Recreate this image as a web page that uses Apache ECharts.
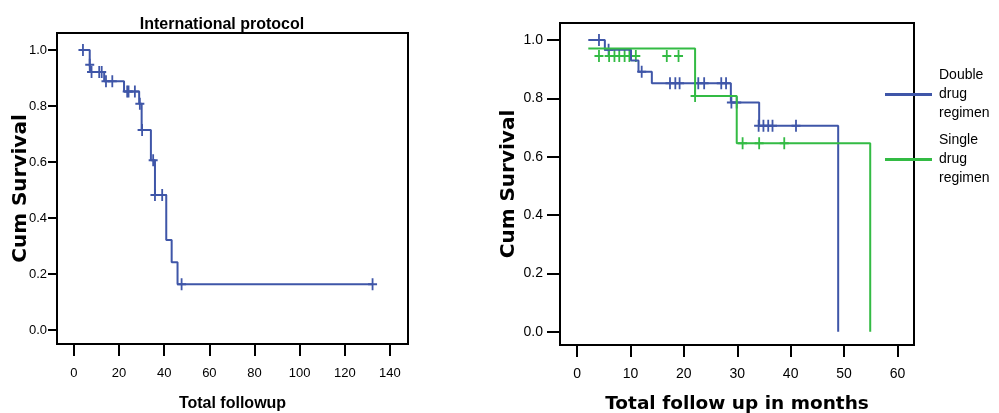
<!DOCTYPE html>
<html lang="en">
<head>
    <meta charset="UTF-8">
    <title>Kaplan-Meier survival curves</title>
    <script src="https://cdn.jsdelivr.net/npm/echarts@6/dist/echarts.min.js"></script>
    <style>
        html, body { margin: 0; padding: 0; background: #fff; }
        #chart { width: 999px; height: 413px; }
    </style>
</head>
<body>
    <div id="chart"></div>
    <script type="text/javascript">
        // left panel: International protocol
        var leftTime = [3.5, 7.0, 7.3, 13.4, 22.2, 28.9, 30.0, 34.1, 35.9, 40.9, 43.3, 45.9, 132.3]
        var leftSurv = [1.0, 0.947, 0.921, 0.888, 0.852, 0.808, 0.714, 0.606, 0.482, 0.321, 0.242, 0.163, 0.163]
        var leftCensTime = [4, 7, 7.8, 11.2, 12.3, 14.2, 17, 23.6, 24.2, 27, 29.2, 30.2, 35.1, 35.9, 39.1, 47.7, 132.3]
        var leftCensSurv = [1.0, 0.947, 0.921, 0.921, 0.921, 0.888, 0.888, 0.852, 0.852, 0.852, 0.808, 0.714, 0.606, 0.482, 0.482, 0.163, 0.163]
        var leftTicks = [0, 20, 40, 60, 80, 100, 120, 140]

        // right panel: double vs single drug regimen
        var doubleTime = [2.1, 5.2, 10.1, 11.5, 14.0, 28.8, 34.1, 48.9]
        var doubleSurv = [1.0, 0.967, 0.930, 0.891, 0.852, 0.786, 0.706, 0.0]
        var doubleCensTime = [4.1, 5.9, 12.1, 17.4, 18.4, 19.2, 22.7, 23.8, 27.0, 27.9, 28.9, 29.9, 34.0, 34.9, 35.8, 36.6, 41.0]
        var doubleCensSurv = [1.0, 0.967, 0.891, 0.852, 0.852, 0.852, 0.852, 0.852, 0.852, 0.852, 0.786, 0.786, 0.706, 0.706, 0.706, 0.706, 0.706]
        var singleTime = [2.1, 22.1, 29.9, 54.9]
        var singleSurv = [0.971, 0.808, 0.646, 0.0]
        var singleCensTime = [4.1, 6.0, 7.0, 7.9, 8.9, 9.8, 11.0, 16.8, 19.0, 22.1, 31.0, 34.1, 38.8]
        var singleCensSurv = [0.945, 0.945, 0.945, 0.945, 0.945, 0.945, 0.945, 0.945, 0.945, 0.808, 0.646, 0.646, 0.646]
        var rightTicks = [0, 10, 20, 30, 40, 50, 60]
        var survTicks = [0, 0.2, 0.4, 0.6, 0.8, 1.0]

        var BLUE = '#3f56a8'
        var GREEN = '#33bb44'
        var plain = "'Liberation Sans', Arial, sans-serif"
        var wide = "'DejaVu Sans', sans-serif"
        var plus = 'path://M4,0h2v12h-2z M0,5h10v2h-10z'

        function pairs(xs, ys) {
            return xs.map((x, i) => [x, ys[i]])
        }

        function curve(name, idx, xs, ys, color) {
            return {
                name: name, type: 'line', step: 'end',
                xAxisIndex: idx, yAxisIndex: idx,
                data: pairs(xs, ys), symbol: 'none', silent: true,
                lineStyle: { color: color, width: 2 }, itemStyle: { color: color }
            }
        }

        function censored(idx, xs, ys, color) {
            return {
                type: 'scatter', xAxisIndex: idx, yAxisIndex: idx,
                data: pairs(xs, ys), symbol: plus, symbolSize: [9, 12], silent: true,
                itemStyle: { color: color, opacity: 1 }
            }
        }

        function xAxis(idx, min, max, ticks, name, nameFont, nameSize, nameGap, labelSize, margin) {
            return {
                type: 'value', gridIndex: idx, min: min, max: max,
                name: name, nameLocation: 'middle', nameGap: nameGap, nameMoveOverlap: false,
                nameTextStyle: { fontFamily: nameFont, fontWeight: 'bold', fontSize: nameSize, color: '#000' },
                axisLine: { show: false, onZero: false },
                axisTick: { show: true, length: 12, customValues: ticks, lineStyle: { color: '#000', width: 2 } },
                axisLabel: { customValues: ticks, margin: margin, fontFamily: plain, fontSize: labelSize, color: '#000' },
                splitLine: { show: false }
            }
        }

        function yAxis(idx, min, max, tickLen, margin, nameGap, labelSize) {
            return {
                type: 'value', gridIndex: idx, min: min, max: max,
                name: 'Cum Survival', nameLocation: 'middle', nameGap: nameGap, nameRotate: 90,
                nameMoveOverlap: false,
                nameTextStyle: { fontFamily: wide, fontWeight: 'bold', fontSize: 20, color: '#000' },
                axisLine: { show: false, onZero: false },
                axisTick: { show: true, length: tickLen, customValues: survTicks, lineStyle: { color: '#000', width: 2 } },
                axisLabel: {
                    customValues: survTicks, margin: margin, fontFamily: plain, fontSize: labelSize, color: '#000',
                    formatter: v => v.toFixed(1)
                },
                splitLine: { show: false }
            }
        }

        var chart = echarts.init(document.getElementById('chart'), null, { renderer: 'canvas' })
        chart.setOption({
            animation: false,
            backgroundColor: '#fff',
            title: [{
                text: 'International protocol', left: 217, top: 12, textAlign: 'center',
                textStyle: { fontFamily: plain, fontWeight: 'bold', fontSize: 16, color: '#000' }
            }],
            legend: {
                data: ['Double drug regimen', 'Single drug regimen'],
                orient: 'vertical', left: 885, top: 66, itemGap: 8, padding: 0,
                itemWidth: 47, itemHeight: 3, icon: 'rect',
                formatter: name => name.replace(/ /g, '\n'),
                textStyle: { fontFamily: plain, fontSize: 14, lineHeight: 19, color: '#000', padding: [0, 0, 0, 2] },
                selectedMode: false
            },
            grid: [
                { left: 57, top: 33, width: 351, height: 311, outerBoundsMode: 'none', containLabel: false,
                  show: true, borderColor: '#000', borderWidth: 2, backgroundColor: 'transparent' },
                { left: 560, top: 23, width: 354, height: 322, outerBoundsMode: 'none', containLabel: false,
                  show: true, borderColor: '#000', borderWidth: 2, backgroundColor: 'transparent' }
            ],
            xAxis: [
                xAxis(0, -7.5, 148, leftTicks, 'Total followup', plain, 16, 52, 13, 23),
                xAxis(1, -3.2, 63.1, rightTicks, 'Total follow up in months', wide, 18.5, 50, 14, 22)
            ],
            yAxis: [
                yAxis(0, -0.05, 1.0607, 9, 10, 26, 13),
                yAxis(1, -0.0456, 1.0583, 13, 17, 41, 14)
            ],
            series: [
                curve('International protocol', 0, leftTime, leftSurv, BLUE),
                censored(0, leftCensTime, leftCensSurv, BLUE),
                curve('Double drug regimen', 1, doubleTime, doubleSurv, BLUE),
                censored(1, doubleCensTime, doubleCensSurv, BLUE),
                curve('Single drug regimen', 1, singleTime, singleSurv, GREEN),
                censored(1, singleCensTime, singleCensSurv, GREEN)
            ]
        })
    </script>
</body>
</html>
